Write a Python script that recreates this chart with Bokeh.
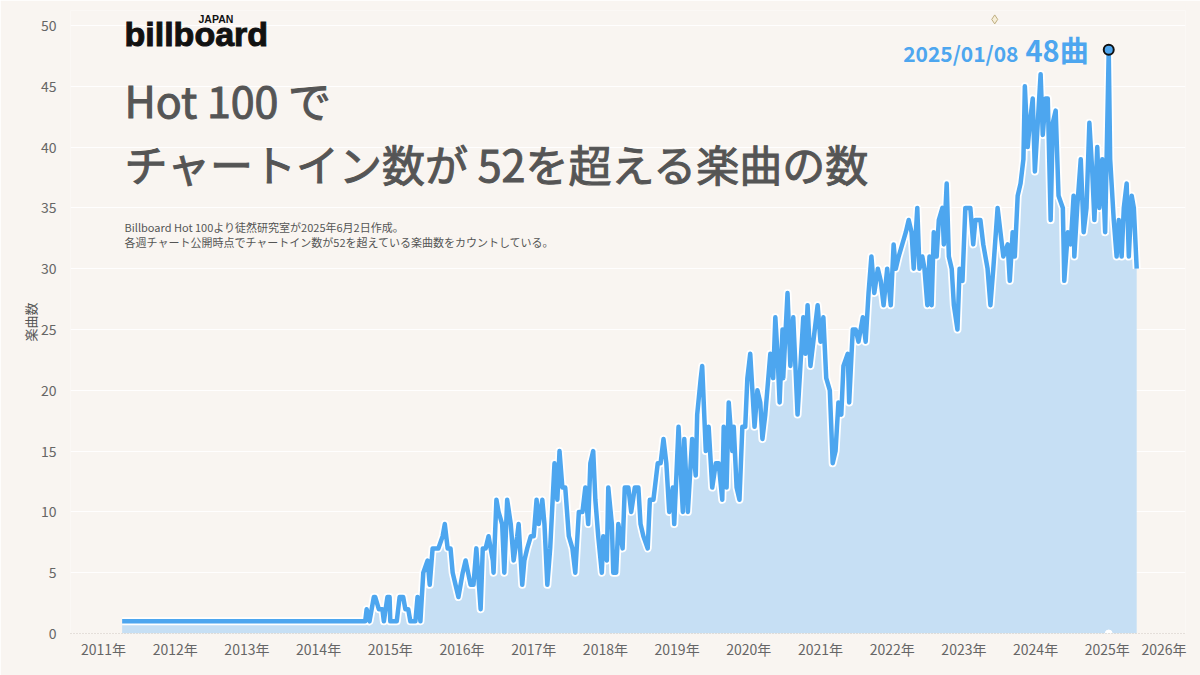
from bokeh.plotting import figure
from bokeh.models import ColumnDataSource, Label, FixedTicker, Range1d
from bokeh.embed import file_html
from bokeh.resources import INLINE

# ---------------- data ----------------
years = [2011.26, 2014.65, 2014.67, 2014.71, 2014.77, 2014.79, 2014.84, 2014.89, 2014.91, 2014.96,
         2014.99, 2015.00, 2015.09, 2015.13, 2015.18, 2015.21, 2015.25, 2015.28, 2015.35, 2015.38,
         2015.42, 2015.46, 2015.52, 2015.55, 2015.59, 2015.67, 2015.73, 2015.76, 2015.80, 2015.84,
         2015.87, 2015.91, 2015.95, 2016.01, 2016.05, 2016.12, 2016.16, 2016.20, 2016.26, 2016.29,
         2016.33, 2016.37, 2016.43, 2016.44, 2016.48, 2016.51, 2016.56, 2016.59, 2016.63, 2016.68,
         2016.72, 2016.77, 2016.79, 2016.84, 2016.87, 2016.91, 2016.96, 2017.00, 2017.04, 2017.07,
         2017.12, 2017.15, 2017.19, 2017.23, 2017.29, 2017.33, 2017.36, 2017.40, 2017.44, 2017.49,
         2017.54, 2017.58, 2017.63, 2017.68, 2017.72, 2017.76, 2017.79, 2017.83, 2017.86, 2017.90,
         2017.95, 2017.97, 2018.02, 2018.04, 2018.09, 2018.11, 2018.15, 2018.18, 2018.24, 2018.27,
         2018.32, 2018.36, 2018.41, 2018.46, 2018.49, 2018.53, 2018.59, 2018.62, 2018.67, 2018.73,
         2018.77, 2018.81, 2018.85, 2018.89, 2018.94, 2018.96, 2019.02, 2019.08, 2019.10, 2019.15,
         2019.21, 2019.26, 2019.28, 2019.33, 2019.35, 2019.40, 2019.44, 2019.49, 2019.54, 2019.58,
         2019.63, 2019.65, 2019.69, 2019.72, 2019.77, 2019.79, 2019.83, 2019.87, 2019.91, 2019.95,
         2019.98, 2020.02, 2020.08, 2020.12, 2020.16, 2020.19, 2020.23, 2020.30, 2020.34, 2020.37,
         2020.40, 2020.43, 2020.47, 2020.48, 2020.54, 2020.58, 2020.62, 2020.68, 2020.72, 2020.76,
         2020.79, 2020.82, 2020.86, 2020.90, 2020.96, 2021.00, 2021.04, 2021.08, 2021.13, 2021.17,
         2021.21, 2021.25, 2021.29, 2021.32, 2021.38, 2021.40, 2021.45, 2021.49, 2021.53, 2021.59,
         2021.63, 2021.67, 2021.71, 2021.75, 2021.80, 2021.84, 2021.88, 2021.93, 2021.98, 2022.02,
         2022.05, 2022.09, 2022.14, 2022.19, 2022.23, 2022.27, 2022.30, 2022.35, 2022.38, 2022.42,
         2022.45, 2022.49, 2022.52, 2022.55, 2022.58, 2022.62, 2022.65, 2022.70, 2022.72, 2022.76,
         2022.79, 2022.83, 2022.86, 2022.91, 2022.94, 2022.98, 2023.02, 2023.09, 2023.13, 2023.16,
         2023.23, 2023.27, 2023.33, 2023.37, 2023.41, 2023.47, 2023.51, 2023.55, 2023.61, 2023.64,
         2023.68, 2023.71, 2023.75, 2023.79, 2023.83, 2023.85, 2023.89, 2023.92, 2023.96, 2023.99,
         2024.03, 2024.07, 2024.10, 2024.14, 2024.17, 2024.21, 2024.24, 2024.28, 2024.32, 2024.38,
         2024.40, 2024.45, 2024.49, 2024.53, 2024.54, 2024.58, 2024.63, 2024.67, 2024.71, 2024.75,
         2024.79, 2024.82, 2024.86, 2024.89, 2024.93, 2024.97, 2025.02, 2025.04, 2025.09, 2025.13,
         2025.16, 2025.20, 2025.23, 2025.27, 2025.30, 2025.34, 2025.37, 2025.41]

counts = [1, 1, 2, 1, 3, 3, 2, 2, 1, 3,
          3, 1, 1, 3, 3, 2, 2, 1, 1, 3,
          1, 5, 6, 4, 7, 7, 8, 9, 7, 7,
          5, 4, 3, 5, 6, 4, 4, 7, 2, 7,
          7, 8, 6, 5, 11, 10, 9, 5, 11, 9,
          6, 8, 9, 4, 6, 7, 8, 8, 11, 9,
          11, 9, 4, 7, 14, 11, 15, 12, 12, 8,
          7, 5, 10, 10, 12, 9, 14, 15, 11, 8,
          5, 8, 6, 12, 9, 5, 5, 9, 7, 12,
          12, 10, 12, 12, 9, 8, 7, 11, 11, 14,
          14, 16, 14, 10, 12, 9, 17, 10, 16, 10,
          16, 13, 18, 21, 22, 15, 17, 12, 14, 14,
          11, 17, 12, 19, 15, 17, 12, 11, 17, 17,
          21, 23, 17, 20, 19, 16, 18, 23, 21, 26,
          23, 19, 25, 21, 28, 22, 26, 18, 22, 26,
          23, 27, 22, 24, 27, 24, 26, 21, 20, 14,
          15, 19, 18, 22, 23, 19, 25, 25, 24, 26,
          24, 28, 31, 28, 30, 29, 27, 30, 27, 32,
          30, 31, 32, 33, 34, 33, 30, 35, 30, 31,
          30, 27, 31, 27, 33, 31, 34, 35, 32, 37,
          31, 30, 27, 25, 30, 29, 35, 35, 32, 34,
          34, 32, 30, 27, 30, 35, 33, 31, 32, 29,
          33, 31, 36, 37, 39, 45, 40, 42, 44, 38,
          42, 46, 41, 44, 44, 34, 42, 43, 36, 35,
          29, 33, 32, 36, 31, 35, 39, 33, 35, 42,
          38, 34, 40, 35, 39, 33, 48, 39, 34, 31,
          34, 31, 35, 37, 31, 36, 35, 30]

peak_date = "2025/01/08"
year_ticks = list(range(2011, 2027))
x_tick_labels = [f"{y}年" for y in year_ticks]
y_ticks = list(range(0, 55, 5))
extra_marker_x = [2023.43]      # small diamond near the top
extra_marker_y = [50.5]
hover_dot_x = [2025.02]         # white dot on the baseline
hover_dot_y = [0]

title_1 = "Hot 100 で"
title_2 = "チャートイン数が 52を超える楽曲の数"
note_1 = "Billboard Hot 100より徒然研究室が2025年6月2日作成。"
note_2 = "各週チャート公開時点でチャートイン数が52を超えている楽曲数をカウントしている。"
y_title = "楽曲数"

# ---------------- layout ----------------
W, H = 1200, 675
BL, BR, BT, BB = 70, 15, 10, 42
FW, FH = W - BL - BR, H - BT - BB
PX_YEAR, PX_UNIT = 71.7, 12.16
x0 = 2011 - 33 / PX_YEAR
x1 = x0 + FW / PX_YEAR
y0 = 0
y1 = FH / PX_UNIT

def X(px):  # canvas pixel -> data x
    return x0 + (px - BL) / PX_YEAR

def Y(py):  # canvas pixel -> data y
    return y1 - (py - BT) / PX_UNIT

BG = "#f9f5f1"
BLUE = "#4da6ef"
FILL = "#c6dff4"
FONT = "Noto Sans CJK JP"
GREY = "#555555"

p = figure(width=W, height=H, output_backend="svg", toolbar_location=None,
           x_range=Range1d(x0, x1), y_range=Range1d(y0, y1),
           min_border_left=BL, min_border_right=BR, min_border_top=BT, min_border_bottom=BB,
           background_fill_color=BG, border_fill_color=BG)
p.outline_line_color = None

src = ColumnDataSource(dict(x=years, y=counts))
p.varea(x="x", y1=0, y2="y", source=src, fill_color=FILL, fill_alpha=1)
p.line("x", "y", source=src, line_color="white", line_width=8, line_join="round")
p.line("x", "y", source=src, line_color=BLUE, line_width=4.5, line_join="round")

pk = counts.index(max(counts))
p.scatter([years[pk]], [counts[pk]], size=10, fill_color=BLUE, line_color="#111111", line_width=2)
p.scatter(extra_marker_x, extra_marker_y, marker="diamond", size=9,
          fill_color="#f6eed8", line_color="#bfae80", line_width=1)
p.scatter(hover_dot_x, hover_dot_y, size=7, fill_color="white", line_color="white")

# axes
overrides = {t: l for t, l in zip(year_ticks, x_tick_labels)}
overrides[year_ticks[-1]] = x_tick_labels[-1] + "\u3000"   # pulls the last label inside, as in the reference
p.xaxis.ticker = FixedTicker(ticks=year_ticks)
p.xaxis.major_label_overrides = overrides
p.xaxis.major_label_text_font = FONT
p.xaxis.major_label_text_font_size = "14px"
p.xaxis.major_label_text_color = "#666666"
p.xaxis.major_tick_out = 0
p.xaxis.major_tick_in = 0
p.xaxis.major_label_standoff = 5
p.xaxis.major_tick_line_color = None
p.xaxis.minor_tick_line_color = None
p.xaxis.axis_line_color = "#cfc7bf"
p.xaxis.axis_line_dash = "1 2"

p.yaxis.ticker = FixedTicker(ticks=y_ticks)
p.yaxis.major_label_text_font = FONT
p.yaxis.major_label_text_font_size = "14px"
p.yaxis.major_label_text_color = "#666666"
p.yaxis.major_label_standoff = 8
p.yaxis.major_tick_line_color = None
p.yaxis.minor_tick_line_color = None
p.yaxis.axis_line_color = None
p.yaxis.axis_label = y_title
p.yaxis.axis_label_text_font = FONT
p.yaxis.axis_label_text_font_style = "normal"
p.yaxis.axis_label_text_font_size = "13px"
p.yaxis.axis_label_text_color = GREY
p.yaxis.axis_label_standoff = -2

p.xgrid.grid_line_color = None
p.ygrid.ticker = FixedTicker(ticks=y_ticks)
p.ygrid.grid_line_color = "#ffffff"
p.ygrid.grid_line_alpha = 0.9

# logo
p.add_layout(Label(x=X(124), y=Y(33), text="billboard", text_font="Liberation Sans",
                   text_font_style="bold", text_font_size="34px", text_color="#111111",
                   text_outline_color="#111111", text_baseline="middle"))
p.add_layout(Label(x=X(198), y=Y(18), text="JAPAN", text_font="Liberation Sans",
                   text_font_style="bold", text_font_size="10.5px", text_color="#111111",
                   text_baseline="middle"))

# titles
p.add_layout(Label(x=X(124), y=Y(98), text=title_1, text_font=FONT, text_font_style="normal",
                   text_font_size="43px", text_color=GREY, text_outline_color=GREY,
                   text_baseline="middle"))
p.add_layout(Label(x=X(124), y=Y(162), text=title_2, text_font=FONT, text_font_style="normal",
                   text_font_size="43px", text_color=GREY, text_outline_color=GREY,
                   text_baseline="middle"))
p.add_layout(Label(x=X(124), y=Y(226), text=note_1, text_font=FONT, text_font_size="11px",
                   text_color=GREY, text_baseline="middle"))
p.add_layout(Label(x=X(124), y=Y(241), text=note_2, text_font=FONT, text_font_size="11px",
                   text_color=GREY, text_baseline="middle"))

# peak annotation
p.add_layout(Label(x=X(1018), y=Y(52), text=peak_date, text_font=FONT, text_font_style="bold",
                   text_font_size="21px", text_color=BLUE, text_align="right",
                   text_baseline="middle"))
p.add_layout(Label(x=X(1025), y=Y(48), text=f"{counts[pk]}曲", text_font=FONT,
                   text_font_style="bold", text_font_size="29px", text_color=BLUE,
                   text_baseline="middle"))

open("out.html", "w").write(file_html(p, INLINE))
